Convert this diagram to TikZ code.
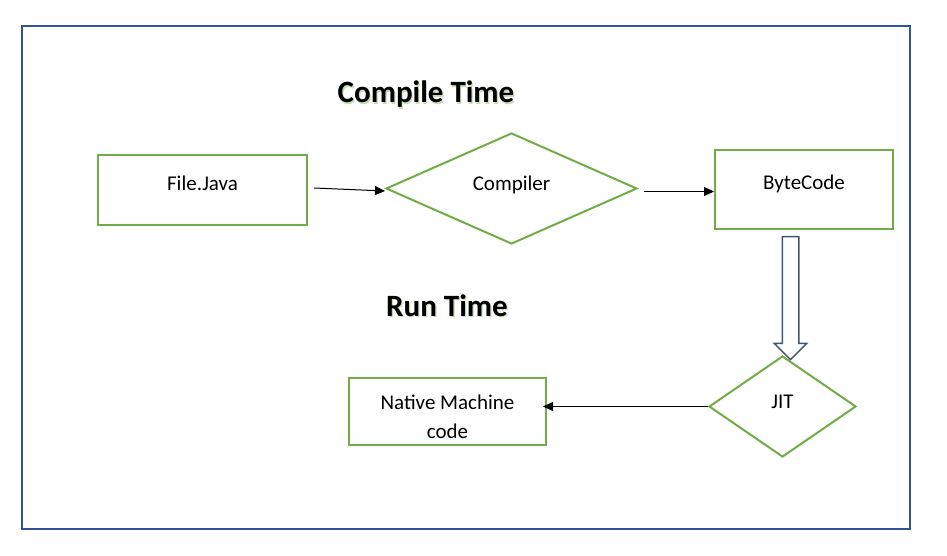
\documentclass[tikz,border=0pt]{standalone}
\usepackage{fontspec}
\setmainfont{Carlito}
\usetikzlibrary{shapes.geometric,shapes.arrows,arrows.meta}

\definecolor{frameblue}{HTML}{2F5597}
\definecolor{boxgreen}{HTML}{70AD47}
\definecolor{fatgray}{HTML}{44546A}
\definecolor{titleglow}{HTML}{C5DDB4}

\newcommand{\glowtitle}[1]{\leavevmode\rlap{\kern1.2pt\raisebox{-1.2pt}{\textcolor{titleglow}{#1}}}#1}
\newcommand{\droptext}[1]{\raisebox{-5pt}[\height][\depth]{#1}}

\begin{document}
\begin{tikzpicture}[x=1pt,y=-1pt,
  box/.style={draw=boxgreen,line width=2pt,inner sep=0pt,font=\fontsize{21}{29}\selectfont},
  rect/.style={box,rectangle,text height=14pt,text depth=14pt},
  dia/.style={box,diamond,text height=14pt,text depth=10pt},
  title/.style={font=\fontsize{31}{36}\selectfont\bfseries},
  flow/.style={line width=1pt,-{Triangle[length=10pt,width=9pt]}}]
  \useasboundingbox (0,0) rectangle (947,556);
  \draw[frameblue,line width=2pt] (22,26) rectangle (910,529);

  \node[title] (compiletime) at (426,95) {\glowtitle{Compile Time}};
  \node[title] (runtime) at (447,306) {\glowtitle{Run Time}};

  \node[rect,minimum width=209pt,minimum height=70pt] (filejava) at (202.5,190) {File.Java};
  \node[dia,minimum width=251pt,minimum height=111pt] (compiler) at (511.5,188.5) {Compiler};
  \node[rect,minimum width=178pt,minimum height=79pt] (bytecode) at (804,189.5) {ByteCode};
  \node[dia,minimum width=147pt,minimum height=101pt] (jit) at (782.5,406.5) {JIT};
  \node[box,rectangle,align=center,minimum width=197pt,minimum height=67pt] (native) at (447.5,411.5)
    {\droptext{Native Machine}\\\droptext{code}};

  % hollow arrow from ByteCode down to JIT
  \node[single arrow,draw=fatgray,fill=white,line width=1.5pt,rotate=-90,inner xsep=0pt,inner ysep=7.5pt,
    minimum height=123pt,minimum width=31pt,single arrow head extend=8pt,
    single arrow head indent=0pt] (jitarrow) at (790.5,294) {};

  \draw[flow] ([xshift=6pt,yshift=2pt]filejava.east) -- ([yshift=-2.5pt]compiler.west);
  \draw[flow] ([xshift=6pt,yshift=-3pt]compiler.east) -- ([yshift=-3pt]compiler.east -| bytecode.west);
  \draw[flow,shorten >=-4pt] (jit.west) -- (jit.west -| native.east);
\end{tikzpicture}
\end{document}
